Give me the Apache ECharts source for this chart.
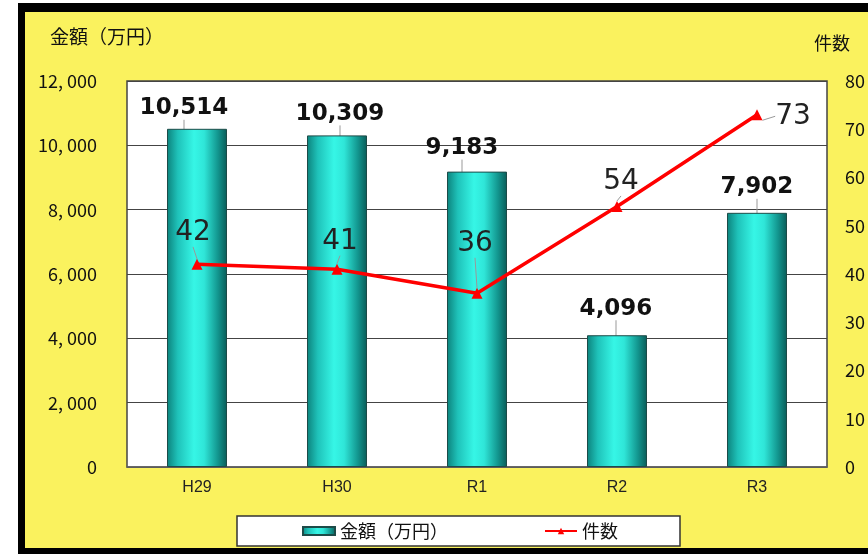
<!DOCTYPE html>
<html><head><meta charset="utf-8">
<script src="https://cdn.jsdelivr.net/npm/echarts@6/dist/echarts.min.js"></script>
<style>html,body{margin:0;padding:0;background:#fff;}#c{width:868px;height:554px;}</style>
</head><body><div id="c"></div>
<script>
const categories = ['H29', 'H30', 'R1', 'R2', 'R3'];
const amountValues = [10514, 10309, 9183, 4096, 7902];
const countValues = [42, 41, 36, 54, 73];
const leftTicks = { min: 0, max: 12000, interval: 2000 };
const rightTicks = { min: 0, max: 80, interval: 10 };
const amountName = '金額（万円）';
const countName = '件数';

// label offsets (dx, dy) relative to default placement
const barLabelShift = [[-13, -9], [3, -10], [-15, -12], [-1, -15], [0, -14]];
const lineLabelShift = [[-4, -7], [3, -3], [-2, -25], [4, 0], [36, 26]];

const chart = echarts.init(document.getElementById('c'));
const jp = '"Noto Sans CJK JP", sans-serif';
const barGrad = {
  type: 'linear', x: 0, y: 0, x2: 1, y2: 0,
  colorStops: [
    { offset: 0, color: '#0c827c' },
    { offset: 0.18, color: '#1fc2b9' },
    { offset: 0.45, color: '#36f6e6' },
    { offset: 0.62, color: '#2fe6d8' },
    { offset: 0.85, color: '#12958e' },
    { offset: 1, color: '#0a5c58' }
  ]
};
function fmt(v) {
  const s = String(v);
  return s.length > 3 ? s.slice(0, -3) + ', ' + s.slice(-3) : s;
}
chart.setOption({
  animation: false,
  backgroundColor: '#FAF25E',
  graphic: [
    { type: 'rect', shape: { x: 0, y: 0, width: 18, height: 554 }, style: { fill: '#fff' }, z: 100 },
    { type: 'rect', shape: { x: 0, y: 0, width: 868, height: 3 }, style: { fill: '#fff' }, z: 100 },
    { type: 'rect', shape: { x: 18, y: 3, width: 850, height: 9 }, style: { fill: '#000' }, z: 100 },
    { type: 'rect', shape: { x: 18, y: 3, width: 7, height: 551 }, style: { fill: '#000' }, z: 100 },
    { type: 'rect', shape: { x: 18, y: 548, width: 850, height: 6 }, style: { fill: '#000' }, z: 100 },
    { type: 'text', left: 50, top: 27, style: { text: amountName, font: '19px ' + jp, fill: '#111' } },
    { type: 'text', left: 814, top: 34, style: { text: countName, font: '18px ' + jp, fill: '#111' } }
  ],
  grid: { left: 127, right: 41, top: 81, bottom: 87, show: true, backgroundColor: '#fff', borderColor: '#444', borderWidth: 1.5 },
  legend: {
    left: 237, top: 516,
    backgroundColor: '#fff', borderColor: '#333', borderWidth: 1.5,
    padding: [6, 62, 6, 65],
    itemGap: 96, itemWidth: 32, itemHeight: 8,
    textStyle: { fontFamily: jp, fontSize: 18, color: '#111' },
    data: [
      { name: amountName, icon: 'rect' },
      { name: countName }
    ]
  },
  xAxis: {
    type: 'category', data: categories,
    axisLine: { lineStyle: { color: '#666', width: 1.5 } },
    axisTick: { show: false },
    axisLabel: { fontFamily: 'Liberation Sans, Arial', fontSize: 16, color: '#222', margin: 13 }
  },
  yAxis: [
    {
      type: 'value', min: leftTicks.min, max: leftTicks.max, interval: leftTicks.interval,
      axisLine: { show: false }, axisTick: { show: false },
      splitLine: { lineStyle: { color: '#444', width: 1.2 } },
      axisLabel: { formatter: fmt, fontFamily: jp, fontSize: 18, color: '#111', margin: 30 }
    },
    {
      type: 'value', min: rightTicks.min, max: rightTicks.max, interval: rightTicks.interval,
      axisLine: { show: false }, axisTick: { show: false }, splitLine: { show: false },
      axisLabel: { fontFamily: jp, fontSize: 18, color: '#111', margin: 18 }
    }
  ],
  series: [
    {
      name: amountName, type: 'bar', data: amountValues, barWidth: 60,
      itemStyle: { color: barGrad, borderColor: '#1d4b48', borderWidth: 1 },
      label: {
        show: true, position: 'top', distance: 0,
        formatter: p => p.value.toLocaleString('en-US'),
        fontFamily: 'DejaVu Sans', fontWeight: 'bold', fontSize: 23, color: '#111'
      },
      labelLayout: p => ({ dx: barLabelShift[p.dataIndex][0], dy: barLabelShift[p.dataIndex][1] }),
      labelLine: { show: true, lineStyle: { color: '#999', width: 1 } }
    },
    {
      name: countName, type: 'line', yAxisIndex: 1, data: countValues,
      lineStyle: { color: '#f00', width: 3.5 },
      itemStyle: { color: '#f00' },
      symbol: 'triangle', symbolSize: 11, z: 5,
      label: {
        show: true, position: 'top', distance: 5,
        fontFamily: 'DejaVu Sans', fontSize: 28, color: '#222'
      },
      labelLayout: p => ({ dx: lineLabelShift[p.dataIndex][0], dy: lineLabelShift[p.dataIndex][1] }),
      labelLine: { show: true, lineStyle: { color: '#999', width: 1 } }
    }
  ]
});
</script></body></html>
